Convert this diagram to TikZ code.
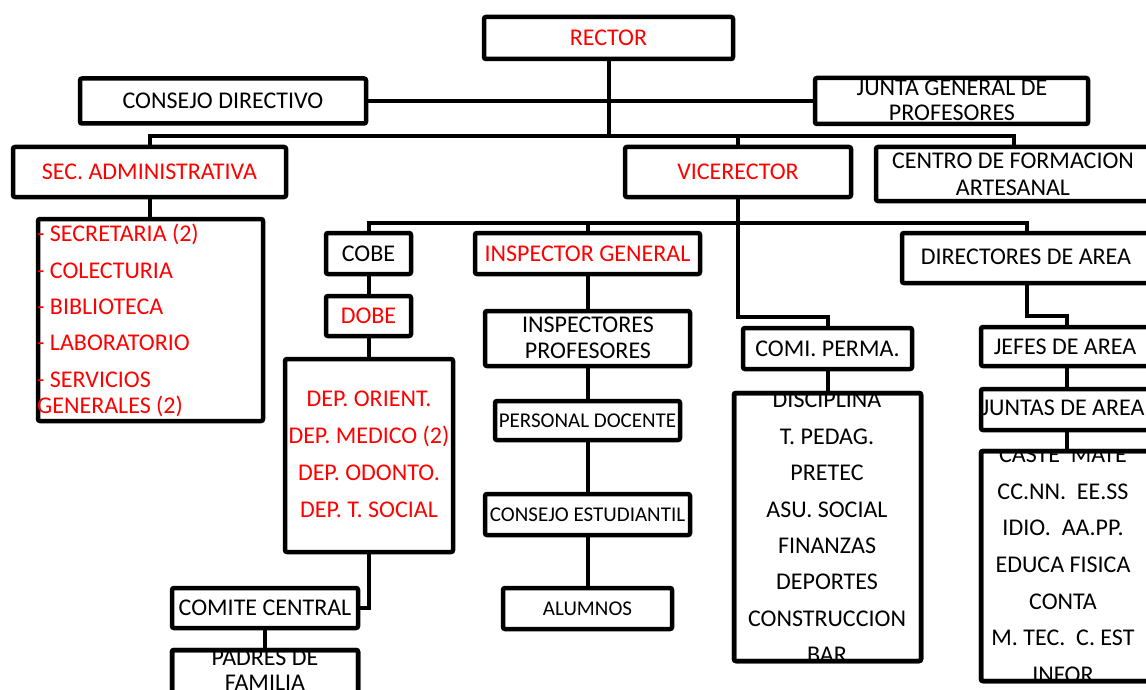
\documentclass[tikz,border=0pt]{standalone}
\usepackage{fontspec}
\setmainfont{Carlito}
\definecolor{rd}{RGB}{255,0,0}
\begin{document}
\begin{tikzpicture}[x=1pt,y=-1pt,
  box/.style={draw,line width=4.5pt,rounded corners=2pt,inner sep=0pt,outer sep=0pt},
  big/.style={font=\fontsize{24}{28}\selectfont,text height=15.5pt,text depth=0pt,inner sep=0pt},
  sml/.style={font=\fontsize{21}{25}\selectfont,text height=13.5pt,text depth=0pt,inner sep=0pt},
  red/.style={text=rd},
  conn/.style={line width=4pt},
  frame/.style={line width=4.5pt,rounded corners=2pt}]
\useasboundingbox (0,0) rectangle (1146,690);

% ---- boxes ----
\node[box,big,red,minimum width=249pt,minimum height=42pt] (rector) at (608.5,38) {RECTOR};
\node[box,big,minimum width=286pt,minimum height=45pt] (cd) at (223,101) {CONSEJO DIRECTIVO};
\node[box,minimum width=273pt,minimum height=46pt] (junta) at (951.5,101) {};
\node[big] (junta1) at (952,88) {JUNTA GENERAL DE};
\node[big] (junta2) at (952,113) {PROFESORES};

\node[box,big,red,minimum width=273pt,minimum height=50pt] (sec) at (149.5,172) {SEC. ADMINISTRATIVA};
\node[box,big,red,minimum width=226pt,minimum height=50pt] (vice) at (738,172) {VICERECTOR};
\node[box,minimum width=276pt,minimum height=54pt] (centro) at (1014,174) {};
\node[big] (centro1) at (1013,161) {CENTRO DE FORMACION};
\node[big] (centro2) at (1013,188) {ARTESANAL};

% left list
\node[box,minimum width=225pt,minimum height=202pt] (llist) at (150.5,320) {};
\node[big,red,anchor=west] (ll1) at (37,234) {- SECRETARIA (2)};
\node[big,red,anchor=west] (ll2) at (37,271) {- COLECTURIA};
\node[big,red,anchor=west] (ll3) at (37,307) {- BIBLIOTECA};
\node[big,red,anchor=west] (ll4) at (37,343) {- LABORATORIO};
\node[big,red,anchor=west] (ll5) at (37,380) {- SERVICIOS};
\node[big,red,anchor=west] (ll6) at (37,406) {GENERALES (2)};

% COBE / DOBE / DEP
\node[box,big,minimum width=85pt,minimum height=41pt] (cobe) at (368.5,253.5) {COBE};
\node[box,big,red,minimum width=85pt,minimum height=40pt] (dobe) at (368.5,316) {DOBE};
\node[box,minimum width=168pt,minimum height=193pt] (dep) at (369,455.5) {};
\node[big,red] (dep1) at (369,399) {DEP. ORIENT.};
\node[big,red] (dep2) at (369,436) {DEP. MEDICO (2)};
\node[big,red] (dep3) at (369,473) {DEP. ODONTO.};
\node[big,red] (dep4) at (369,510) {DEP. T. SOCIAL};

\node[box,big,minimum width=186pt,minimum height=40pt] (comite) at (265,608) {COMITE CENTRAL};
\node[box,minimum width=186pt,minimum height=80pt] (padres) at (265,690) {};
\begin{scope}
  \clip ([shift={(2.25,2.25)}]padres.north west) rectangle ([shift={(-2.25,-2.25)}]padres.south east);
  \node[big] (padres1) at (265,658) {PADRES DE};
  \node[big] (padres2) at (265,683) {FAMILIA};
\end{scope}
\draw[frame] (padres.north west) rectangle (padres.south east);

% inspector column
\node[box,big,red,minimum width=225pt,minimum height=41pt] (ig) at (587.5,253.5) {INSPECTOR GENERAL};
\node[box,minimum width=205pt,minimum height=55pt] (ip) at (587.5,338.5) {};
\node[big] (ip1) at (588,325) {INSPECTORES};
\node[big] (ip2) at (588,351) {PROFESORES};
\node[box,sml,minimum width=185pt,minimum height=39pt] (pd) at (587.5,420.5) {PERSONAL DOCENTE};
\node[box,sml,minimum width=205pt,minimum height=41pt] (ce) at (587.5,514.5) {CONSEJO ESTUDIANTIL};
\node[box,sml,minimum width=169pt,minimum height=41pt] (alum) at (587.5,608.5) {ALUMNOS};

% comision permanente
\node[box,big,minimum width=169pt,minimum height=41pt] (comi) at (827.5,348.5) {COMI. PERMA.};
\node[box,minimum width=187pt,minimum height=268pt] (blist) at (827.5,527) {};
\begin{scope}
  \clip ([shift={(2.25,2.25)}]blist.north west) rectangle ([shift={(-2.25,-2.25)}]blist.south east);
  \foreach \t [count=\i from 0] in {DISCIPLINA,T. PEDAG.,PRETEC,ASU. SOCIAL,FINANZAS,DEPORTES,CONSTRUCCION,BAR}
    \node[big] (bl\i) at (827,400+36.43*\i) {\t};
\end{scope}
\draw[frame] (blist.north west) rectangle (blist.south east);

% directores
\node[box,minimum width=250pt,minimum height=50pt] (dir) at (1027,258) {};
\node[big] (dirt) at (1026,257) {DIRECTORES DE AREA};
\node[box,minimum width=171pt,minimum height=39pt] (jefes) at (1066.5,346.5) {};
\node[big] (jefest) at (1065,347) {JEFES DE AREA};
\node[box,minimum width=171pt,minimum height=41pt] (juntas) at (1066.5,409.5) {};
\node[big] (juntast) at (1063,408) {JUNTAS DE AREA};
\node[box,minimum width=171pt,minimum height=230pt] (rlist) at (1066.5,566) {};
\begin{scope}
  \clip ([shift={(2.25,2.25)}]rlist.north west) rectangle ([shift={(-2.25,-2.25)}]rlist.south east);
  \node[big] (rl0) at (1063,455) {CASTE~~MATE};
  \node[big] (rl1) at (1063,492) {CC.NN.~~EE.SS};
  \node[big] (rl2) at (1063,528) {IDIO.~~AA.PP.};
  \node[big] (rl3) at (1063,565) {EDUCA FISICA};
  \node[big] (rl4) at (1063,602) {CONTA};
  \node[big] (rl5) at (1063,638) {M. TEC.~~C. EST};
  \node[big] (rl6) at (1063,675) {INFOR};
\end{scope}
\draw[frame] (rlist.north west) rectangle (rlist.south east);

% ---- connectors ----
\coordinate (bus1) at (608.5,136);
\coordinate (bus2) at (738,223);
\coordinate (k1) at (738,317);
\coordinate (k2) at (1027,316);

\draw[conn] (cd.east) -- (junta.west);
\draw[conn] (rector.south) -- (bus1);
\draw[conn] (sec.north) |- (bus1);
\draw[conn] (vice.north) |- (bus1);
\draw[conn] (centro.north) |- (bus1);

\draw[conn] (sec.south) -- (sec.south |- llist.north);
\draw[conn] (vice.south) -- (k1) -| (comi.north);
\draw[conn] (cobe.north) |- (bus2);
\draw[conn] (ig.north) |- (bus2);
\draw[conn] (dir.north) |- (bus2);

\draw[conn] (cobe.south) -- (dobe.north);
\draw[conn] (dobe.south) -- (dobe.south |- dep.north);
\draw[conn] (dep.south) |- (comite.east);
\draw[conn] (comite.south) -- (padres.north);

\draw[conn] (ig.south) -- (ip.north);
\draw[conn] (ip.south) -- (pd.north);
\draw[conn] (pd.south) -- (ce.north);
\draw[conn] (ce.south) -- (alum.north);

\draw[conn] (comi.south) -- (blist.north);

\draw[conn] (dir.south) -- (k2) -| (jefes.north);
\draw[conn] (jefes.south) -- (juntas.north);
\draw[conn] (juntas.south) -- (rlist.north);
\end{tikzpicture}
\end{document}
